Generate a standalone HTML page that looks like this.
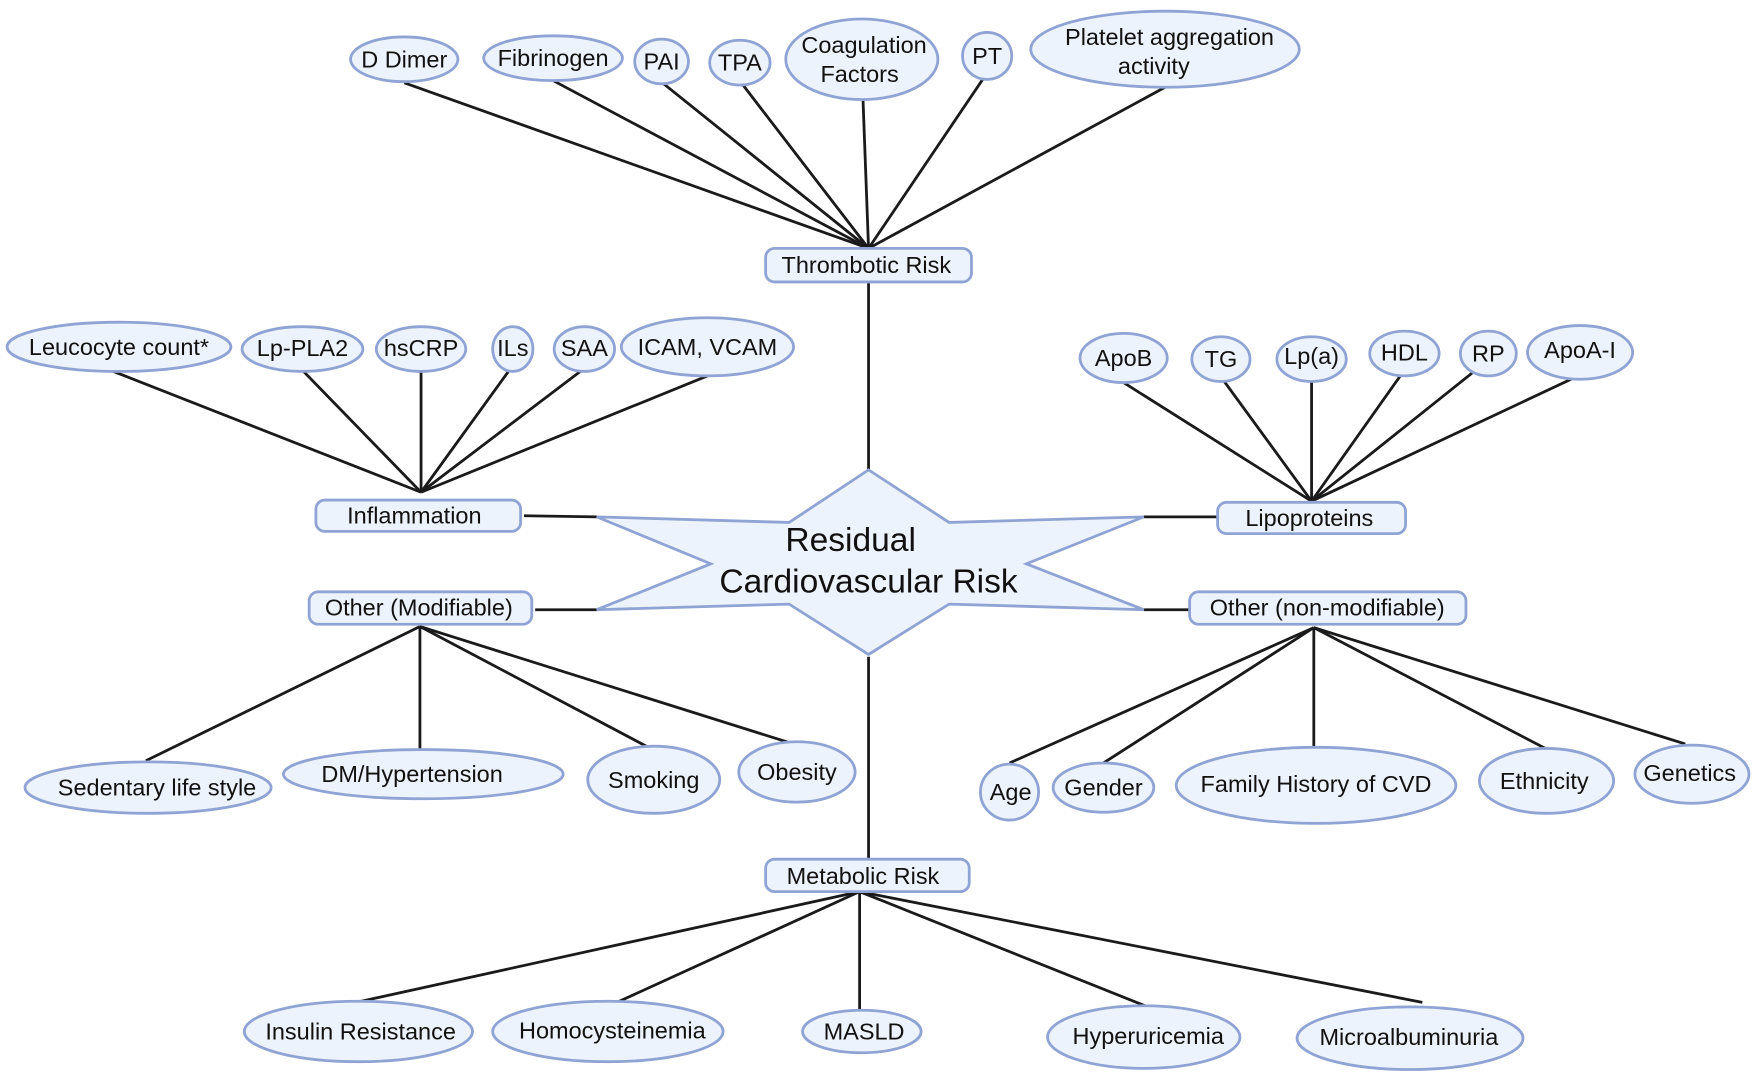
<!DOCTYPE html>
<html><head><meta charset="utf-8"><style>
html,body{margin:0;padding:0;background:#fff;}
svg{display:block;}
text{font-family:"Liberation Sans",Arial,sans-serif;fill:#111;text-anchor:middle;dominant-baseline:central;}
.n{fill:#edf3fc;stroke:#8fa3d4;stroke-width:2.5;}
.l{stroke:#1a1a1a;stroke-width:2.5;fill:none;}
</style></head><body>
<svg width="1755" height="1074" viewBox="0 0 1568 960" xmlns="http://www.w3.org/2000/svg">
<g class="l">
<line x1="361" y1="74" x2="776" y2="222"/><line x1="494" y1="72" x2="776" y2="222"/>
<line x1="593" y1="75" x2="776" y2="222"/><line x1="663" y1="75" x2="776" y2="222"/>
<line x1="771" y1="88" x2="776" y2="222"/><line x1="878" y1="71" x2="776" y2="222"/>
<line x1="1041" y1="78" x2="776" y2="222"/>
<line x1="776" y1="252" x2="776" y2="420"/>
<line x1="101" y1="332" x2="376" y2="440"/><line x1="270" y1="331" x2="376" y2="440"/>
<line x1="376" y1="328" x2="376" y2="440"/><line x1="457" y1="328" x2="376" y2="440"/>
<line x1="521" y1="330" x2="376" y2="440"/><line x1="632" y1="336" x2="376" y2="440"/>
<line x1="468" y1="461" x2="533" y2="462"/>
<line x1="1004" y1="342" x2="1172" y2="448"/><line x1="1094" y1="341" x2="1172" y2="448"/>
<line x1="1172" y1="340" x2="1172" y2="448"/><line x1="1252" y1="335" x2="1172" y2="448"/>
<line x1="1316" y1="333" x2="1172" y2="448"/><line x1="1406" y1="338" x2="1172" y2="448"/>
<line x1="1022" y1="462" x2="1088" y2="462"/>
<line x1="130" y1="680" x2="375" y2="560"/><line x1="375" y1="672" x2="375" y2="560"/>
<line x1="583" y1="670" x2="375" y2="560"/><line x1="709" y1="665" x2="375" y2="560"/>
<line x1="478" y1="545" x2="533" y2="545"/>
<line x1="902" y1="682" x2="1174" y2="561"/><line x1="986" y1="682" x2="1174" y2="561"/>
<line x1="1174" y1="673" x2="1174" y2="561"/><line x1="1381" y1="669" x2="1174" y2="561"/>
<line x1="1506" y1="665" x2="1174" y2="561"/>
<line x1="1022" y1="545" x2="1063" y2="545"/>
<line x1="776" y1="587" x2="776" y2="768"/>
<line x1="318" y1="896" x2="768" y2="797"/><line x1="551" y1="896" x2="768" y2="797"/>
<line x1="768" y1="903" x2="768" y2="797"/><line x1="1023" y1="899" x2="768" y2="797"/>
<line x1="1271" y1="896" x2="768" y2="797"/>
</g>

<polygon class="n" points="776,420 848,467 1022,462 917,504 1022,545 848,540 776,585 705,540 533,545 635,504 533,462 705,467"/>
<text x="760" y="483" font-size="30">Residual</text>
<text x="776" y="520" font-size="30">Cardiovascular Risk</text>

<g font-size="21">
<rect class="n" x="684" y="222" width="184" height="30" rx="8"/><text x="774" y="237">Thrombotic Risk</text>
<rect class="n" x="282" y="447" width="183" height="28" rx="8"/><text x="370" y="461">Inflammation</text>
<rect class="n" x="1088" y="449" width="168" height="28" rx="8"/><text x="1170" y="463">Lipoproteins</text>
<rect class="n" x="276" y="529" width="199" height="29" rx="8"/><text x="374" y="543">Other (Modifiable)</text>
<rect class="n" x="1063" y="529" width="247" height="29" rx="8"/><text x="1186" y="543">Other (non-modifiable)</text>
<rect class="n" x="684" y="768" width="182" height="29" rx="8"/><text x="771" y="783">Metabolic Risk</text>

<ellipse class="n" cx="361" cy="53" rx="48" ry="20"/><text x="361" y="53">D Dimer</text>
<ellipse class="n" cx="494" cy="52" rx="62" ry="20"/><text x="494" y="52">Fibrinogen</text>
<ellipse class="n" cx="591" cy="55" rx="24" ry="20"/><text x="591" y="55">PAI</text>
<ellipse class="n" cx="661" cy="56" rx="27" ry="20"/><text x="661" y="56">TPA</text>
<ellipse class="n" cx="770" cy="53" rx="68" ry="36"/><text x="772" y="40">Coagulation</text><text x="768" y="66">Factors</text>
<ellipse class="n" cx="882" cy="50" rx="22" ry="21"/><text x="882" y="50">PT</text>
<ellipse class="n" cx="1041" cy="44" rx="120" ry="34"/><text x="1045" y="33">Platelet aggregation</text><text x="1031" y="59">activity</text>

<ellipse class="n" cx="106" cy="310" rx="100" ry="22"/><text x="106" y="310">Leucocyte count*</text>
<ellipse class="n" cx="270" cy="312" rx="54" ry="20"/><text x="270" y="311">Lp-PLA2</text>
<ellipse class="n" cx="376" cy="312" rx="40" ry="20"/><text x="376" y="311">hsCRP</text>
<ellipse class="n" cx="458" cy="312" rx="18" ry="20"/><text x="458" y="311">ILs</text>
<ellipse class="n" cx="522" cy="312" rx="27" ry="20"/><text x="522" y="311">SAA</text>
<ellipse class="n" cx="632" cy="310" rx="77" ry="26"/><text x="632" y="310">ICAM, VCAM</text>

<ellipse class="n" cx="1004" cy="320" rx="39" ry="22"/><text x="1004" y="320">ApoB</text>
<ellipse class="n" cx="1091" cy="321" rx="26" ry="20"/><text x="1091" y="321">TG</text>
<ellipse class="n" cx="1172" cy="321" rx="31" ry="20"/><text x="1172" y="318">Lp(a)</text>
<ellipse class="n" cx="1255" cy="316" rx="31" ry="20"/><text x="1255" y="315">HDL</text>
<ellipse class="n" cx="1330" cy="316" rx="25" ry="20"/><text x="1330" y="316">RP</text>
<ellipse class="n" cx="1412" cy="315" rx="47" ry="24"/><text x="1412" y="313">ApoA-I</text>

<ellipse class="n" cx="132" cy="704" rx="110" ry="23"/><text x="140" y="704">Sedentary life style</text>
<ellipse class="n" cx="378" cy="692" rx="125" ry="22"/><text x="368" y="692">DM/Hypertension</text>
<ellipse class="n" cx="584" cy="697" rx="59" ry="30"/><text x="584" y="697">Smoking</text>
<ellipse class="n" cx="712" cy="690" rx="52" ry="27"/><text x="712" y="690">Obesity</text>

<ellipse class="n" cx="902" cy="708" rx="26" ry="25"/><text x="903" y="708">Age</text>
<ellipse class="n" cx="986" cy="704" rx="45" ry="22"/><text x="986" y="704">Gender</text>
<ellipse class="n" cx="1176" cy="702" rx="125" ry="34"/><text x="1176" y="701">Family History of CVD</text>
<ellipse class="n" cx="1382" cy="698" rx="60" ry="29"/><text x="1380" y="698">Ethnicity</text>
<ellipse class="n" cx="1512" cy="692" rx="51" ry="26"/><text x="1510" y="691">Genetics</text>

<ellipse class="n" cx="320" cy="922" rx="102" ry="27"/><text x="322" y="922">Insulin Resistance</text>
<ellipse class="n" cx="543" cy="922" rx="103" ry="27"/><text x="547" y="921">Homocysteinemia</text>
<ellipse class="n" cx="770" cy="922" rx="53" ry="19"/><text x="772" y="922">MASLD</text>
<ellipse class="n" cx="1022" cy="927" rx="86" ry="28"/><text x="1026" y="926">Hyperuricemia</text>
<ellipse class="n" cx="1260" cy="928" rx="101" ry="28"/><text x="1259" y="927">Microalbuminuria</text>
</g>
</svg>
</body></html>
